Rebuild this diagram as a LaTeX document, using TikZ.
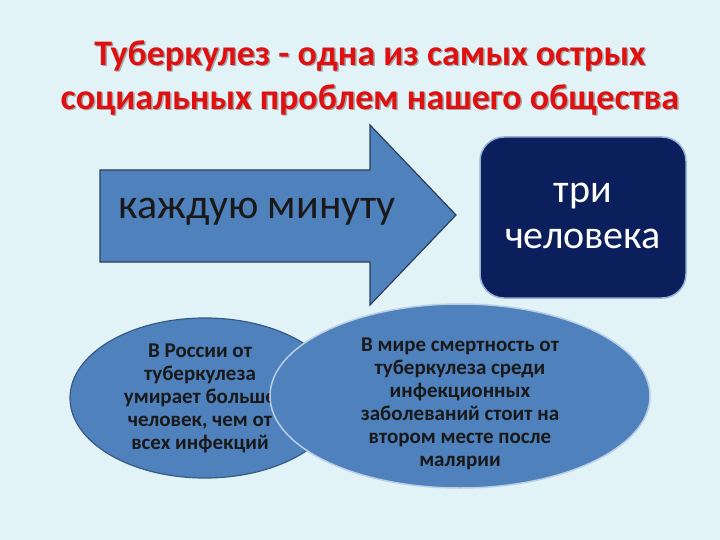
\documentclass[tikz,border=0pt]{standalone}
\usepackage{fontspec}
\setmainfont{Carlito}
\definecolor{bg}{HTML}{E2F3F8}
\definecolor{ttl}{HTML}{E01010}
\definecolor{blu}{HTML}{4F81BD}
\definecolor{navy}{HTML}{0B1F5C}
\tikzset{etxt/.style={text=black!90,font=\fontsize{21}{23}\selectfont\bfseries,align=center}}
\begin{document}
\begin{tikzpicture}[x=1pt,y=-1pt]
\fill[bg] (0,0) rectangle (720,540);
\useasboundingbox (0,0) rectangle (720,540);
\foreach \dx/\c in {1.5/black!35,0/ttl}{
\node[text=\c,font=\fontsize{36}{44}\selectfont\bfseries,align=center] (title) at (370+\dx,78+\dx) {Туберкулез - одна из самых острых\\социальных проблем нашего общества};}
\draw[fill=blu,draw=blu!50!black,line width=1.2pt] (100,170) -- (370,170) -- (370,125) -- (456,215) -- (370,305) -- (370,262) -- (100,262) -- cycle;
\node[font=\fontsize{42}{48}\selectfont,text=black!90] (a) at (257,212) {каждую минуту};
\draw[fill=navy,draw=blu!60!white,line width=1.5pt,rounded corners=24pt] (480,137) rectangle (686,298);
\node[font=\fontsize{40}{46}\selectfont,text=white,align=center] (b) at (583,216) {три\\человека};
\draw[fill=blu,draw=blu!70!black,line width=1.2pt] (205,398) ellipse (135 and 80);
\node[etxt] (l) at (200,398) {В России от\\туберкулеза\\умирает больше\\человек, чем от\\всех инфекций};
\draw[fill=blu,draw=blu!40!white,line width=1.5pt] (460,396) ellipse (190 and 92);
\node[etxt] (r) at (460,404) {В мире смертность от\\туберкулеза среди\\инфекционных\\заболеваний стоит на\\втором месте после\\малярии};
\end{tikzpicture}
\end{document}
